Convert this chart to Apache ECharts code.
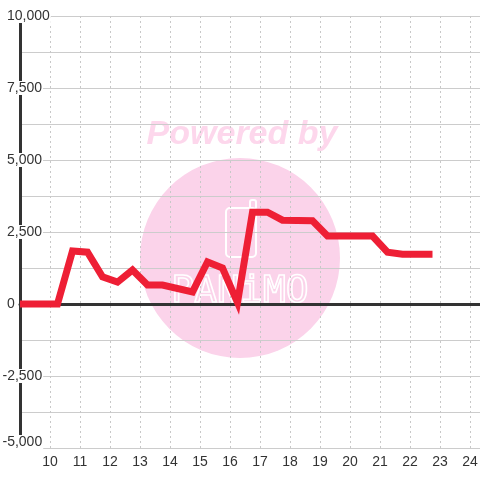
<!DOCTYPE html>
<html>
<head>
<meta charset="utf-8">
<script src="https://cdn.jsdelivr.net/npm/echarts@6/dist/echarts.min.js"></script>
<style>
  html, body { margin: 0; padding: 0; background: #fff; }
  #chart { width: 480px; height: 480px; }
</style>
</head>
<body>
<div id="chart"></div>
<script>
// hours (x) and values (y)
var hours  = [9, 10.25, 10.75, 11.25, 11.75, 12.25, 12.75, 13.25, 13.75, 14.75, 15.25, 15.75, 16.25, 16.75, 17.25, 17.75, 18.75, 19.25, 20.75, 21.25, 21.75, 22.75];
var values = [0, 0, 1840, 1800, 940, 760, 1180, 660, 660, 420, 1460, 1250, 50, 3190, 3190, 2910, 2890, 2360, 2360, 1800, 1730, 1730];
var xTicks = [10, 11, 12, 13, 14, 15, 16, 17, 18, 19, 20, 21, 22, 23, 24];
var yTicks = [-5000, -2500, 0, 2500, 5000, 7500, 10000];

var points = hours.map(function (h, i) { return [h, values[i]]; });
var pink = '#fbd3ea';
var xMax = 24 + 1 / 3;

var myChart = echarts.init(document.getElementById('chart'));
var option = {
  animation: false,
  textStyle: { fontFamily: 'Liberation Sans, Arial, sans-serif' },
  grid: { left: 20, right: 0, top: 16, bottom: 32, containLabel: false, outerBoundsMode: 'none' },
  graphic: [
    {
      type: 'circle', z: -10, silent: true,
      shape: { cx: 240, cy: 258, r: 100 },
      style: { fill: pink }
    },
    {
      type: 'text', z: -10, silent: true,
      x: 242, y: 135,
      style: {
        text: 'Powered by', fill: '#fdd7ec',
        font: 'italic bold 34px "Liberation Sans", Arial, sans-serif',
        align: 'center', verticalAlign: 'middle'
      }
    },
    {
      type: 'rect', z: -9, silent: true,
      shape: { x: 226, y: 208, width: 30, height: 49, r: 4 },
      style: { fill: 'none', stroke: '#fff', lineWidth: 2 }
    },
    {
      type: 'rect', z: -9, silent: true,
      shape: { x: 250, y: 200, width: 6, height: 9, r: 2 },
      style: { fill: 'none', stroke: '#fff', lineWidth: 2 }
    },
    {
      type: 'text', z: -9, silent: true,
      x: 240, y: 292,
      style: {
        text: 'PANiMO', fill: 'none', stroke: '#fff', lineWidth: 1.6,
        font: '38px "DejaVu Sans Mono", monospace',
        align: 'center', verticalAlign: 'middle'
      }
    }
  ],
  xAxis: [
    {
      type: 'value', min: 9, max: xMax, interval: 1,
      axisLine: { show: false, onZero: false },
      axisTick: { show: false },
      axisLabel: {
        color: '#333', fontSize: 14, margin: 7,
        formatter: function (v) { return xTicks.indexOf(v) >= 0 ? String(v) : ''; }
      },
      splitLine: { show: true, lineStyle: { color: '#c8c8c8', type: [2, 3], width: 1 } }
    },
    {
      type: 'value', min: 9, max: xMax, position: 'bottom',
      axisLine: { show: true, onZero: true, lineStyle: { color: '#333', width: 3 } },
      axisTick: { show: false },
      axisLabel: { show: false },
      splitLine: { show: false }
    }
  ],
  yAxis: {
    type: 'value', min: -5000, max: 10000, interval: 1250,
    axisLine: { show: true, lineStyle: { color: '#333', width: 3 } },
    axisTick: { show: false },
    splitLine: { show: true, lineStyle: { color: '#cccccc', width: 1 } },
    axisLabel: {
      align: 'left', margin: 17.5,
      formatter: function (v) {
        if (yTicks.indexOf(v) < 0) return '';
        var s = v.toLocaleString('en-US');
        if (v === -5000) return '{nb|' + s + '}';
        return v < 0 ? '{n|' + s + '}' : '{p|' + s + '}';
      },
      rich: {
        p: { color: '#333', fontSize: 14, backgroundColor: '#fff', padding: [0, 1, 0, 4.5] },
        n: { color: '#333', fontSize: 14, backgroundColor: '#fff', padding: [0, 1, 0, 0] },
        nb: { color: '#333', fontSize: 14, backgroundColor: '#fff', padding: [0, 1, 12, 0] }
      }
    }
  },
  series: [
    {
      type: 'line', xAxisIndex: 0,
      data: points,
      symbol: 'none',
      lineStyle: { color: '#ee1f35', width: 7, join: 'miter' },
      z: 5
    }
  ]
};
myChart.setOption(option);
</script>
</body>
</html>
